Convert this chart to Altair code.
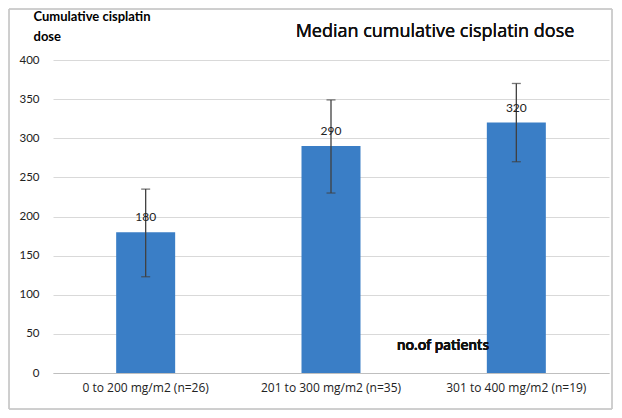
import altair as alt
import pandas as pd

categories = ["0 to 200 mg/m2 (n=26)", "201 to 300 mg/m2 (n=35)", "301  to 400 mg/m2 (n=19)"]
medians = [180, 290, 320]
lows = [123, 230, 270]
highs = [235, 349, 370]

df = pd.DataFrame({"cat": categories, "median": medians, "low": lows, "high": highs})

FONT = "Lato, Open Sans, sans-serif"

xaxis = alt.Axis(labelAngle=0, labelFontSize=12, labelColor="#222222", labelFont="Open Sans, sans-serif",
                 domainColor="#bfbfbf", ticks=False, labelPadding=9, grid=False, title=None)
yaxis = alt.Axis(values=[0, 50, 100, 150, 200, 250, 300, 350, 400], labelOverlap=False,
                 labelFontSize=11.5, labelColor="#222222",
                 labelFont=FONT, ticks=False, domain=False, gridColor="#d9d9d9",
                 labelPadding=14,
                 title=["Cumulative cisplatin", "dose"], titleAngle=0, titleAlign="left",
                 titleBaseline="top", titleX=-20, titleY=-50, titleFontSize=13,
                 titleFont=FONT, titleFontWeight="bold", titleColor="#000000",
                 titleLineHeight=20)
xscale = alt.Scale(paddingInner=0, paddingOuter=0)
yscale = alt.Scale(domain=[0, 400])

def X():
    return alt.X("cat:N", sort=None, scale=xscale, axis=xaxis)

def Y(f):
    return alt.Y(f, scale=yscale, axis=yaxis)

base = alt.Chart(df)
bars = base.mark_bar(size=59, color="#3a7ec6").encode(x=X(), y=Y("median:Q"))
labels = base.mark_text(dy=-8, baseline="bottom", fontSize=12, font=FONT, color="#222222").encode(
    x=X(), y=Y("median:Q"), text="median:Q")
rule = base.mark_rule(color="#404040", strokeWidth=1.3).encode(
    x=X(), y=Y("low:Q"), y2="high:Q")
capl = base.mark_tick(color="#404040", size=9, thickness=1.3, orient="horizontal").encode(
    x=X(), y=Y("low:Q"))
caph = base.mark_tick(color="#404040", size=9, thickness=1.3, orient="horizontal").encode(
    x=X(), y=Y("high:Q"))
note = base.mark_text(text="no.of patients", align="left", baseline="middle", fontSize=15,
                      fontWeight="bold", font=FONT, color="#111111").encode(
    x=alt.value(344), y=alt.value(285))
title = base.mark_text(text="Median cumulative cisplatin dose", align="center", baseline="middle",
                       fontSize=18, fontWeight="normal", font="Open Sans, sans-serif",
                       color="#111111").encode(
    x=alt.value(382), y=alt.value(-28))
frame = base.mark_rect(fill=None, stroke="#c8c8c8", strokeWidth=1).encode(
    x=alt.value(-44), x2=alt.value(559), y=alt.value(-51), y2=alt.value(349))

chart = alt.layer(bars, rule, capl, caph, labels, note, title, frame).properties(
    width=556, height=313,
    background="white",
    autosize=alt.AutoSizeParams(type="none"),
    padding={"left": 45, "top": 52, "right": 5, "bottom": 37},
).configure_view(stroke=None)

chart.save("out.html", embed_options={"renderer": "svg", "actions": False})
